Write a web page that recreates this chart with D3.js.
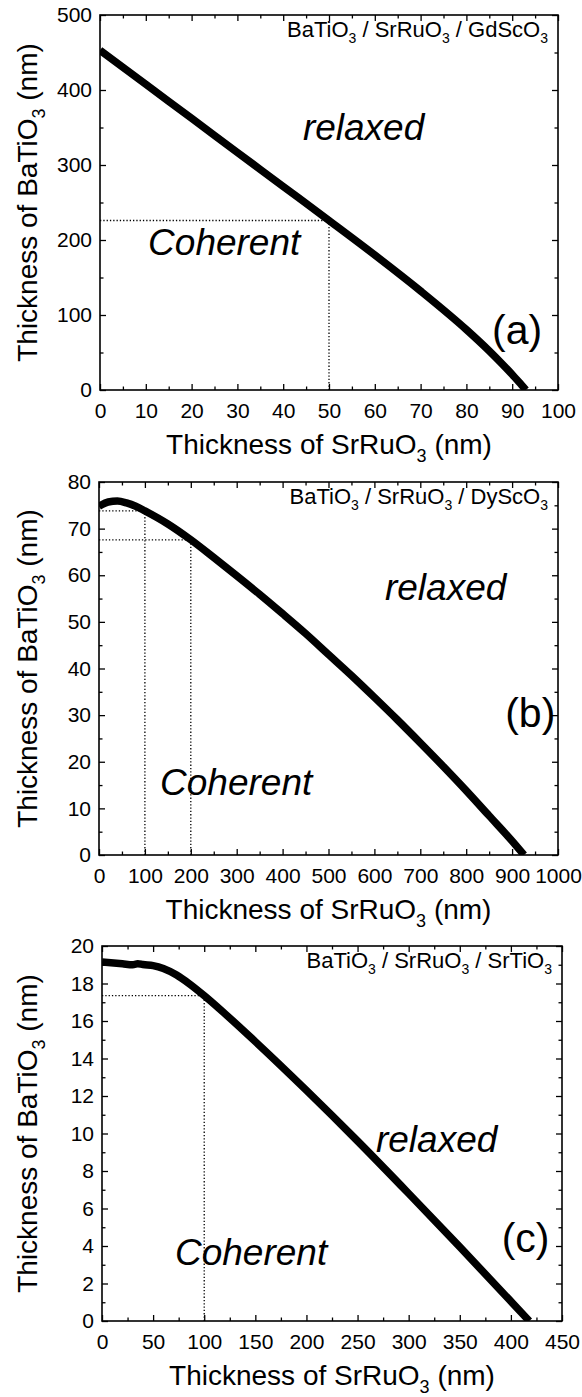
<!DOCTYPE html>
<html>
<head>
<meta charset="utf-8">
<script src="https://cdn.jsdelivr.net/npm/d3@7"></script>
<style>
  html, body { margin: 0; padding: 0; background: #fff; }
  svg { display: block; }
  text { font-family: "Liberation Sans", Arial, sans-serif; fill: #000; }
</style>
</head>
<body>
<svg id="chart" width="582" height="1397"></svg>
<script>
// ---------- DATA ----------
// Panel (a): BaTiO3 / SrRuO3 / GdScO3
const aSrRuO3 = [0, 10, 20, 30, 40, 50, 60, 70, 80, 85, 88, 90, 92, 93];
const aBaTiO3 = [453, 407.6, 362.2, 316.8, 271.4, 226, 180, 132, 80.5, 52, 33.5, 20.6, 6.9, 0];
const aGuideX = [50];
const aGuideY = [226];
const aXTicks = [0, 10, 20, 30, 40, 50, 60, 70, 80, 90, 100];
const aYTicks = [0, 100, 200, 300, 400, 500];

// Panel (b): BaTiO3 / SrRuO3 / DyScO3
const bSrRuO3 = [0, 20, 40, 60, 80, 100, 150, 200, 250, 300, 350, 400, 450, 500, 550, 600, 650, 700, 750, 800, 850, 900, 926];
const bBaTiO3 = [74.8, 75.7, 75.9, 75.5, 74.8, 73.8, 71.0, 67.6, 63.8, 59.9, 55.9, 51.75, 47.5, 43.0, 38.5, 33.8, 29.0, 24.05, 19.0, 13.8, 8.4, 3.0, 0];
const bGuideX = [100, 200];
const bGuideY = [73.8, 67.6];
const bXTicks = [0, 100, 200, 300, 400, 500, 600, 700, 800, 900, 1000];
const bYTicks = [0, 10, 20, 30, 40, 50, 60, 70, 80];

// Panel (c): BaTiO3 / SrRuO3 / SrTiO3
const cSrRuO3 = [0, 20, 30, 35, 40, 50, 60, 73, 85, 100, 120, 150, 200, 250, 300, 350, 400, 418];
const cBaTiO3 = [19.15, 19.05, 19.0, 19.06, 19.01, 18.95, 18.8, 18.45, 18.0, 17.35, 16.4, 14.9, 12.3, 9.6, 6.8, 3.95, 1.05, 0];
const cGuideX = [100];
const cGuideY = [17.35];
const cXTicks = [0, 50, 100, 150, 200, 250, 300, 350, 400, 450];
const cYTicks = [0, 2, 4, 6, 8, 10, 12, 14, 16, 18, 20];

const substrates = ["GdScO3", "DyScO3", "SrTiO3"];
const panelTags = ["(a)", "(b)", "(c)"];

// ---------- LAYOUT ----------
const panels = [
  { xs: aSrRuO3, ys: aBaTiO3, gx: aGuideX, gy: aGuideY, xt: aXTicks, yt: aYTicks,
    box: { l: 100, r: 558, t: 15, b: 390 },
    relaxed: [44.3, 333], coherent: [10.5, 180], tag: [85.6, 62] },
  { xs: bSrRuO3, ys: bBaTiO3, gx: bGuideX, gy: bGuideY, xt: bXTicks, yt: bYTicks,
    box: { l: 99, r: 558, t: 482, b: 855 },
    relaxed: [623, 54.7], coherent: [133, 12.9], tag: [885, 27.5] },
  { xs: cSrRuO3, ys: cBaTiO3, gx: cGuideX, gy: cGuideY, xt: cXTicks, yt: cYTicks,
    box: { l: 102, r: 562, t: 946, b: 1321 },
    relaxed: [268, 9.0], coherent: [71.4, 3.0], tag: [391, 3.7] }
];

const svg = d3.select("#chart");

function subText(sel, parts, subSize, subDy) {
  parts.forEach(([s, isSub], i) => {
    const t = sel.append("tspan").text(s);
    if (isSub) {
      t.attr("font-size", subSize).attr("dy", subDy);
    } else if (i > 0 && parts[i - 1][1]) {
      t.attr("dy", -subDy);
    }
  });
}

panels.forEach((p, i) => {
  const { l, r, t, b } = p.box;
  const xMax = p.xt[p.xt.length - 1];
  const yMax = p.yt[p.yt.length - 1];
  const x = d3.scaleLinear().domain([0, xMax]).range([l, r]);
  const y = d3.scaleLinear().domain([0, yMax]).range([b, t]);
  const xStep = p.xt[1] - p.xt[0];
  const yStep = p.yt[1] - p.yt[0];
  const xMinor = d3.range(xStep / 2, xMax, xStep);
  const yMinor = d3.range(yStep / 2, yMax, yStep);

  const g = svg.append("g");
  const clipId = "clip" + i;
  g.append("clipPath").attr("id", clipId)
    .append("rect").attr("x", l).attr("y", t).attr("width", r - l).attr("height", b - t);

  // dotted guides
  const guides = g.append("g").attr("stroke", "#000").attr("stroke-width", 1.3)
    .attr("stroke-dasharray", "1.3,2").attr("fill", "none");
  p.gx.forEach((gxv, k) => {
    const gyv = p.gy[k];
    guides.append("line").attr("x1", x(0)).attr("x2", x(gxv)).attr("y1", y(gyv)).attr("y2", y(gyv));
    guides.append("line").attr("x1", x(gxv)).attr("x2", x(gxv)).attr("y1", y(0)).attr("y2", y(gyv));
  });

  // curve
  const pts = p.xs.map((v, k) => [v, p.ys[k]]);
  g.append("path")
    .attr("clip-path", `url(#${clipId})`)
    .attr("d", d3.line().x(d => x(d[0])).y(d => y(d[1])).curve(d3.curveMonotoneX)(pts))
    .attr("fill", "none").attr("stroke", "#000").attr("stroke-width", 7.5);

  // axes
  const fmt = d3.format("d");
  g.append("g").attr("transform", `translate(0,${b})`)
    .call(d3.axisBottom(x).tickValues(p.xt).tickFormat(fmt).tickSize(-6).tickPadding(13));
  g.append("g").attr("transform", `translate(0,${b})`)
    .call(d3.axisBottom(x).tickValues(xMinor).tickFormat("").tickSize(-3.5));
  g.append("g").attr("transform", `translate(0,${t})`)
    .call(d3.axisTop(x).tickValues(p.xt).tickFormat("").tickSize(-6));
  g.append("g").attr("transform", `translate(0,${t})`)
    .call(d3.axisTop(x).tickValues(xMinor).tickFormat("").tickSize(-3.5));
  g.append("g").attr("transform", `translate(${l},0)`)
    .call(d3.axisLeft(y).tickValues(p.yt).tickFormat(fmt).tickSize(-6).tickPadding(8));
  g.append("g").attr("transform", `translate(${l},0)`)
    .call(d3.axisLeft(y).tickValues(yMinor).tickFormat("").tickSize(-3.5));
  g.append("g").attr("transform", `translate(${r},0)`)
    .call(d3.axisRight(y).tickValues(p.yt).tickFormat("").tickSize(-6));
  g.append("g").attr("transform", `translate(${r},0)`)
    .call(d3.axisRight(y).tickValues(yMinor).tickFormat("").tickSize(-3.5));

  g.selectAll(".domain").remove();
  g.selectAll(".tick line").attr("stroke", "#000").attr("stroke-width", 1.3);
  g.selectAll(".tick text").attr("font-size", 21).attr("font-family", "Liberation Sans, Arial, sans-serif").attr("fill", "#000");

  g.append("rect").attr("x", l).attr("y", t).attr("width", r - l).attr("height", b - t)
    .attr("fill", "none").attr("stroke", "#000").attr("stroke-width", 1.6);

  // legend (material stack)
  const leg = g.append("text").attr("x", r - 10).attr("y", t + 22)
    .attr("text-anchor", "end").attr("font-size", 22);
  const sub = substrates[i];
  subText(leg, [["BaTiO", false], ["3", true], [" / SrRuO", false], ["3", true], [" / " + sub.slice(0, -1), false], [sub.slice(-1), true]], 14, 6);

  // region labels
  g.append("text").attr("x", x(p.relaxed[0])).attr("y", y(p.relaxed[1]))
    .attr("font-size", 37).attr("font-style", "italic").text("relaxed");
  g.append("text").attr("x", x(p.coherent[0])).attr("y", y(p.coherent[1]))
    .attr("font-size", 37).attr("font-style", "italic").text("Coherent");
  g.append("text").attr("x", x(p.tag[0])).attr("y", y(p.tag[1]))
    .attr("font-size", 41).text(panelTags[i]);

  // axis titles
  const xt = g.append("text").attr("x", (l + r) / 2).attr("y", b + 64)
    .attr("text-anchor", "middle").attr("font-size", 28);
  subText(xt, [["Thickness of SrRuO", false], ["3", true], [" (nm)", false]], 18, 8);

  const yt = g.append("text")
    .attr("transform", `translate(37,${(t + b) / 2}) rotate(-90)`)
    .attr("text-anchor", "middle").attr("font-size", 28);
  subText(yt, [["Thickness of BaTiO", false], ["3", true], [" (nm)", false]], 18, 8);
});
</script>
</body>
</html>
